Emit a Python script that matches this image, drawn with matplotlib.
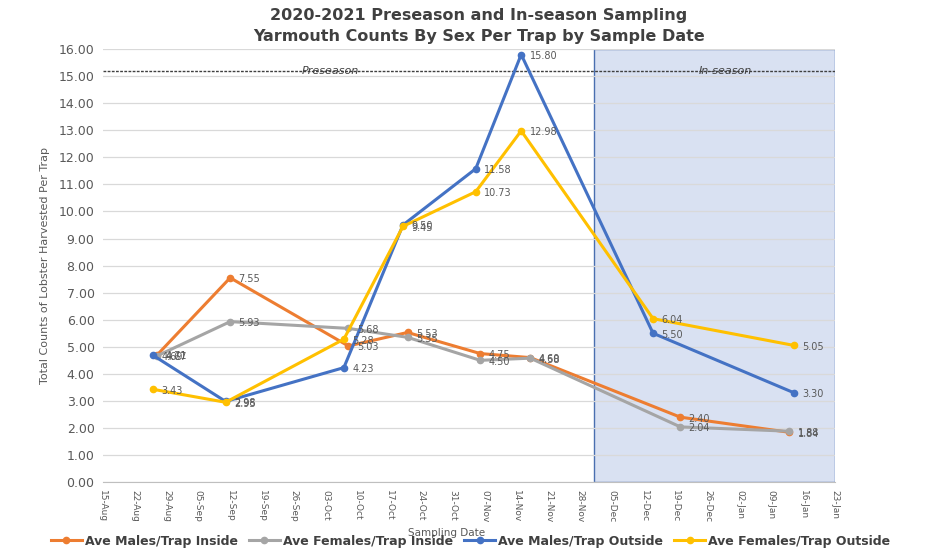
import datetime as dt

import matplotlib
matplotlib.use("Agg")
import matplotlib.pyplot as plt
from matplotlib.lines import Line2D


inside_dates = ["2020-08-27", "2020-09-12", "2020-10-08", "2020-10-21",
                "2020-11-06", "2020-11-17", "2020-12-20", "2021-01-13"]
outside_dates = ["2020-08-26", "2020-09-11", "2020-10-07", "2020-10-20",
                 "2020-11-05", "2020-11-15", "2020-12-14", "2021-01-14"]

males_inside    = [4.71, 7.55, 5.03, 5.53, 4.75, 4.60, 2.40, 1.84]
females_inside  = [4.67, 5.93, 5.68, 5.35, 4.50, 4.58, 2.04, 1.88]
males_outside   = [4.69, 2.98, 4.23, 9.50, 11.58, 15.80, 5.50, 3.30]
females_outside = [3.43, 2.95, 5.28, 9.45, 10.73, 12.98, 6.04, 5.05]

season_start = "2020-12-01"
season_line  = 15.2
x_start, x_end = "2020-08-15", "2021-01-23"

SERIES = [
    ("Ave Males/Trap Inside",    inside_dates,  males_inside,    "#ED7D31"),
    ("Ave Females/Trap Inside",  inside_dates,  females_inside,  "#A5A5A5"),
    ("Ave Males/Trap Outside",   outside_dates, males_outside,   "#4472C4"),
    ("Ave Females/Trap Outside", outside_dates, females_outside, "#FFC000"),
]

TEXT = "#595959"


def to_date(s):
    return dt.datetime.strptime(s, "%Y-%m-%d")


fig = plt.figure(figsize=(9.35, 5.58), dpi=100)
ax = fig.add_axes([0.110, 0.136, 0.783, 0.776])

x0, x1 = to_date(x_start), to_date(x_end)

# in-season shaded block
ax.axvspan(to_date(season_start), x1, ymin=0, ymax=1,
           facecolor="#D9E1F2", edgecolor="#4a6fb0", linewidth=1.0, zorder=0)

for name, dates, vals, col in SERIES:
    xs = [to_date(d) for d in dates]
    ax.plot(xs, vals, color=col, linewidth=2.2, marker="o",
            markersize=4.5, zorder=3, label=name)
    for x, v in zip(xs, vals):
        ax.annotate(f"{v:.2f}", (x, v), xytext=(6, -1),
                    textcoords="offset points", fontsize=7,
                    color=TEXT, va="center", ha="left", zorder=4)

ax.axhline(season_line, color="#404040", linewidth=1.0,
           linestyle=(0, (2, 1)), zorder=2)
ax.text(to_date("2020-10-04"), season_line, "Preseason", fontsize=8,
        style="italic", color="#404040", ha="center", va="center", zorder=4)
ax.text(to_date("2020-12-30"), season_line, "In-season", fontsize=8,
        style="italic", color="#404040", ha="center", va="center", zorder=4)

ax.set_xlim(x0, x1)
ax.set_ylim(0, 16)
ax.set_yticks(range(0, 17))
ax.set_yticklabels([f"{v:.2f}" for v in range(0, 17)], fontsize=9, color=TEXT)

ticks = []
d = x0
while d <= x1:
    ticks.append(d)
    d += dt.timedelta(days=7)
ax.set_xticks(ticks)
ax.set_xticklabels([t.strftime("%d-%b") for t in ticks], rotation=-90,
                   fontsize=6.5, color=TEXT)

ax.grid(axis="y", color="#D9D9D9", linewidth=0.9)
ax.set_axisbelow(True)
for s in ["top", "right", "left"]:
    ax.spines[s].set_visible(False)
ax.spines["bottom"].set_color("#BFBFBF")
ax.tick_params(axis="both", length=0, pad=6)

ax.set_ylabel("Total Counts of Lobster Harvested Per Trap", fontsize=8,
              color=TEXT, labelpad=6)
ax.set_xlabel("Sampling Date", fontsize=7.5, color=TEXT, labelpad=1)
ax.xaxis.set_label_coords(0.47, -0.105)

fig.text(0.512, 0.985,
         "2020-2021 Preseason and In-season Sampling\n"
         "Yarmouth Counts By Sex Per Trap by Sample Date",
         ha="center", va="top", fontsize=11.5, fontweight="bold",
         color="#404040", linespacing=1.5)

handles = [Line2D([0], [0], color=c, linewidth=2.2, marker="o", markersize=4.5)
           for _, _, _, c in SERIES]
fig.legend(handles, [s[0] for s in SERIES], loc="center",
           bbox_to_anchor=(0.503, 0.03), ncol=4, frameon=False,
           prop={"size": 9, "weight": "bold"}, labelcolor="#404040",
           handlelength=2.5, handletextpad=0.2, columnspacing=0.9)

fig.savefig("out.png", dpi=100)
